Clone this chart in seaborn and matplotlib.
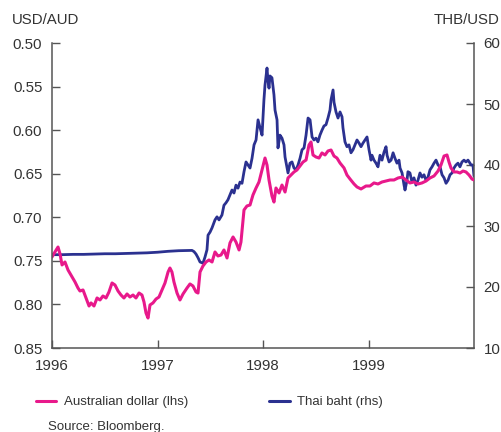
import matplotlib
matplotlib.use("Agg")
import matplotlib.pyplot as plt
import seaborn as sns
import numpy as np
from matplotlib.lines import Line2D

# ---- data (decimal years) ----
aud_t = [1996.000, 1996.028, 1996.057, 1996.076, 1996.095, 1996.123, 1996.152, 1996.190, 1996.218, 1996.246,
         1996.265, 1996.294, 1996.322, 1996.351, 1996.370, 1996.398, 1996.427, 1996.455, 1996.483, 1996.512,
         1996.540, 1996.569, 1996.597, 1996.626, 1996.654, 1996.682, 1996.711, 1996.739, 1996.768, 1996.796,
         1996.825, 1996.853, 1996.872, 1996.891, 1996.910, 1996.929, 1996.957, 1996.986, 1997.014, 1997.043,
         1997.071, 1997.100, 1997.118, 1997.137, 1997.156, 1997.185, 1997.213, 1997.242, 1997.280, 1997.308,
         1997.336, 1997.365, 1997.384, 1997.403, 1997.431, 1997.460, 1997.488, 1997.517, 1997.545, 1997.573,
         1997.602, 1997.630, 1997.659, 1997.687, 1997.716, 1997.744, 1997.773, 1997.791, 1997.820, 1997.848,
         1997.877, 1997.905, 1997.934, 1997.962, 1997.991, 1998.019, 1998.038, 1998.057, 1998.085, 1998.104,
         1998.123, 1998.152, 1998.180, 1998.209, 1998.237, 1998.265, 1998.294, 1998.322, 1998.351, 1998.379,
         1998.408, 1998.436, 1998.455, 1998.474, 1998.502, 1998.531, 1998.559, 1998.588, 1998.616, 1998.645,
         1998.673, 1998.701, 1998.730, 1998.768, 1998.796, 1998.825, 1998.863, 1998.891, 1998.929, 1998.976,
         1999.014, 1999.052, 1999.090, 1999.128, 1999.166, 1999.204, 1999.242, 1999.280, 1999.318, 1999.355,
         1999.393, 1999.431, 1999.469, 1999.507, 1999.545, 1999.583, 1999.621, 1999.659, 1999.687, 1999.716,
         1999.744, 1999.763, 1999.782, 1999.810, 1999.839, 1999.867, 1999.896, 1999.924, 1999.953, 1999.981,
         2000.000]
aud_v = [0.7456, 0.7398, 0.7341, 0.7420, 0.7547, 0.7513, 0.7605, 0.7685, 0.7742, 0.7811,
         0.7846, 0.7834, 0.7926, 0.8018, 0.7983, 0.8018, 0.7926, 0.7949, 0.7903, 0.7926,
         0.7857, 0.7754, 0.7777, 0.7846, 0.7892, 0.7926, 0.7880, 0.7915, 0.7892, 0.7926,
         0.7869, 0.7892, 0.7972, 0.8098, 0.8156, 0.8006, 0.7983, 0.7938, 0.7915, 0.7834,
         0.7754, 0.7628, 0.7582, 0.7628, 0.7742, 0.7869, 0.7949, 0.7880, 0.7811, 0.7765,
         0.7788, 0.7857, 0.7869, 0.7628, 0.7559, 0.7513, 0.7490, 0.7513, 0.7398, 0.7444,
         0.7433, 0.7375, 0.7467, 0.7295, 0.7226, 0.7284, 0.7375, 0.7284, 0.6916, 0.6870,
         0.6859, 0.6744, 0.6664, 0.6595, 0.6457, 0.6320, 0.6400, 0.6572, 0.6756, 0.6825,
         0.6664, 0.6721, 0.6630, 0.6710, 0.6549, 0.6515, 0.6480, 0.6457, 0.6411, 0.6366,
         0.6343, 0.6170, 0.6136, 0.6285, 0.6308, 0.6320, 0.6262, 0.6285, 0.6239, 0.6228,
         0.6297, 0.6320, 0.6377, 0.6434, 0.6515, 0.6561, 0.6618, 0.6652, 0.6675, 0.6641,
         0.6641, 0.6606, 0.6618, 0.6595, 0.6584, 0.6572, 0.6572, 0.6549, 0.6538, 0.6572,
         0.6606, 0.6595, 0.6618, 0.6606, 0.6584, 0.6549, 0.6526, 0.6469, 0.6400, 0.6297,
         0.6285, 0.6366, 0.6434, 0.6480, 0.6480, 0.6492, 0.6469, 0.6480, 0.6515, 0.6561,
         0.6572]

thb_t = [1996.00, 1996.10, 1996.20, 1996.30, 1996.40, 1996.50, 1996.60, 1996.70, 1996.80, 1996.90,
         1997.00, 1997.10, 1997.20, 1997.30,
         1997.327, 1997.346, 1997.365, 1997.384, 1997.403, 1997.431, 1997.450, 1997.469, 1997.479, 1997.498,
         1997.517, 1997.545, 1997.564, 1997.583, 1997.611, 1997.630, 1997.649, 1997.668, 1997.687, 1997.706,
         1997.725, 1997.744, 1997.763, 1997.782, 1997.801, 1997.820, 1997.839, 1997.858, 1997.877, 1997.896,
         1997.915, 1997.934, 1997.953, 1997.972, 1997.991, 1998.009, 1998.019, 1998.038, 1998.047, 1998.057,
         1998.066, 1998.085, 1998.104, 1998.114, 1998.133, 1998.142, 1998.161, 1998.180, 1998.199, 1998.209,
         1998.228, 1998.237, 1998.256, 1998.275, 1998.294, 1998.313, 1998.332, 1998.351, 1998.370, 1998.389,
         1998.408, 1998.427, 1998.446, 1998.465, 1998.483, 1998.502, 1998.521, 1998.540, 1998.559, 1998.578,
         1998.597, 1998.616, 1998.635, 1998.645, 1998.664, 1998.673, 1998.692, 1998.711, 1998.730, 1998.749,
         1998.758, 1998.777, 1998.796, 1998.815, 1998.834, 1998.853, 1998.872, 1998.891, 1998.910, 1998.929,
         1998.948, 1998.967, 1998.986, 1999.005, 1999.024, 1999.033, 1999.052, 1999.071, 1999.090, 1999.109,
         1999.128, 1999.147, 1999.166, 1999.176, 1999.195, 1999.214, 1999.233, 1999.251, 1999.270, 1999.289,
         1999.299, 1999.318, 1999.337, 1999.346, 1999.365, 1999.374, 1999.393, 1999.412, 1999.431, 1999.450,
         1999.469, 1999.488, 1999.507, 1999.526, 1999.545, 1999.564, 1999.583, 1999.602, 1999.621, 1999.640,
         1999.659, 1999.678, 1999.697, 1999.716, 1999.735, 1999.754, 1999.773, 1999.792, 1999.810, 1999.829,
         1999.848, 1999.867, 1999.886, 1999.905, 1999.924, 1999.943, 1999.962, 1999.972, 1999.990, 2000.000]
thb_v = [25.3, 25.3, 25.35, 25.35, 25.4, 25.45, 25.45, 25.5, 25.55, 25.6,
         25.7, 25.85, 25.95, 26.0,
         26.0, 25.8, 25.4, 24.8, 24.1, 23.9, 24.9, 26.1, 28.5, 29.0,
         29.7, 31.0, 31.5, 31.0, 31.8, 33.4, 33.8, 34.3, 35.1, 35.9,
         35.4, 36.7, 36.2, 37.2, 37.0, 38.9, 40.5, 40.0, 39.5, 41.1,
         43.3, 44.1, 47.4, 46.1, 44.9, 50.7, 53.1, 55.9, 53.9, 52.6,
         54.6, 54.3, 51.5, 49.0, 47.4, 42.8, 44.9, 44.4, 43.3, 41.3,
         39.5, 38.7, 40.3, 40.5, 39.5, 39.2, 40.0, 41.1, 42.5, 42.8,
         44.9, 47.7, 47.4, 44.6, 44.1, 44.4, 43.8, 44.9, 45.7, 46.4,
         46.6, 47.7, 49.0, 50.7, 52.3, 50.3, 48.7, 47.7, 48.7, 47.9,
         46.1, 43.8, 43.0, 43.3, 42.0, 42.5, 43.3, 44.1, 43.6, 43.0,
         43.6, 44.1, 44.6, 42.5, 40.8, 41.6, 40.8, 40.3, 39.7, 41.6,
         40.8, 42.1, 43.0, 41.6, 40.5, 40.8, 42.0, 41.1, 40.3, 40.8,
         39.5, 38.7, 36.7, 35.9, 37.5, 38.9, 38.7, 37.2, 37.9, 36.7,
         37.5, 38.7, 38.0, 38.4, 37.5, 38.0, 39.2, 39.7, 40.3, 40.8,
         40.0, 39.7, 38.4, 37.9, 37.0, 37.5, 38.4, 38.7, 39.5, 40.0,
         40.3, 39.7, 40.5, 40.8, 40.5, 40.8, 40.3, 40.0, 40.0, 38.2]

year_ticks = [1996, 1997, 1998, 1999]
aud_ticks = [0.50, 0.55, 0.60, 0.65, 0.70, 0.75, 0.80, 0.85]
thb_ticks = [10, 20, 30, 40, 50, 60]

PINK = "#E8198B"
BLUE = "#2B3190"
TXT = "#333333"
SPINE = "#555555"

sns.set_style("white")
plt.rcParams["font.family"] = ["Liberation Sans", "DejaVu Sans"]

fig = plt.figure(figsize=(5.02, 4.32), dpi=100)
ax = fig.add_axes([52/502, 1-348/432, (474-52)/502, (348-43)/432])
ax2 = ax.twinx()

sns.lineplot(x=aud_t, y=aud_v, ax=ax, color=PINK, linewidth=2.2, legend=False)
sns.lineplot(x=thb_t, y=thb_v, ax=ax2, color=BLUE, linewidth=2.0, legend=False)

# pink drawn over blue
ax.set_zorder(ax2.get_zorder() + 1)
ax.patch.set_visible(False)

ax.set_xlim(1996, 2000)
ax.set_ylim(0.85, 0.50)
ax2.set_ylim(10, 60)
ax.set_xticks(year_ticks)
ax.set_xticklabels([str(y) for y in year_ticks])
ax.set_yticks(aud_ticks)
ax.set_yticklabels([f"{v:.2f}" for v in aud_ticks])
ax2.set_yticks(thb_ticks)
ax2.set_yticklabels([str(v) for v in thb_ticks])
ax.set_xlabel("")
ax.set_ylabel("")
ax2.set_ylabel("")

for a in (ax, ax2):
    a.spines["top"].set_visible(False)
    for s in ("left", "right", "bottom"):
        a.spines[s].set_color(SPINE)
        a.spines[s].set_linewidth(1.1)
ax.spines["right"].set_visible(False)
ax2.spines["left"].set_visible(False)
ax2.spines["bottom"].set_visible(False)

ax.tick_params(axis="y", direction="in", length=6, width=1, color=SPINE,
               labelsize=10.8, labelcolor=TXT, pad=7, left=True)
ax.tick_params(axis="x", direction="in", length=6, width=1, color=SPINE,
               labelsize=10.8, labelcolor=TXT, pad=8, bottom=True)
ax2.tick_params(axis="y", direction="in", length=6, width=1, color=SPINE,
                labelsize=10.8, labelcolor=TXT, pad=7, right=True)

fig.text(12/502, 1-20/432, "USD/AUD", ha="left", va="center", fontsize=10.8, color=TXT)
fig.text(500/502, 1-20/432, "THB/USD", ha="right", va="center", fontsize=10.8, color=TXT)

handles = [Line2D([], [], color=PINK, linewidth=2.2), Line2D([], [], color=BLUE, linewidth=2.2)]
fig.legend(handles, ["Australian dollar (lhs)", "Thai baht (rhs)"], ncol=2, frameon=False,
           loc="center left", bbox_to_anchor=(36/502, 1-402/432), fontsize=9.5,
           handlelength=1.55, handletextpad=0.6, columnspacing=6.1, labelcolor=TXT,
           borderaxespad=0, borderpad=0)
fig.text(48/502, 1-427/432, "Source: Bloomberg.", ha="left", va="center", fontsize=9.5, color=TXT)

fig.savefig("out.png", dpi=100)
